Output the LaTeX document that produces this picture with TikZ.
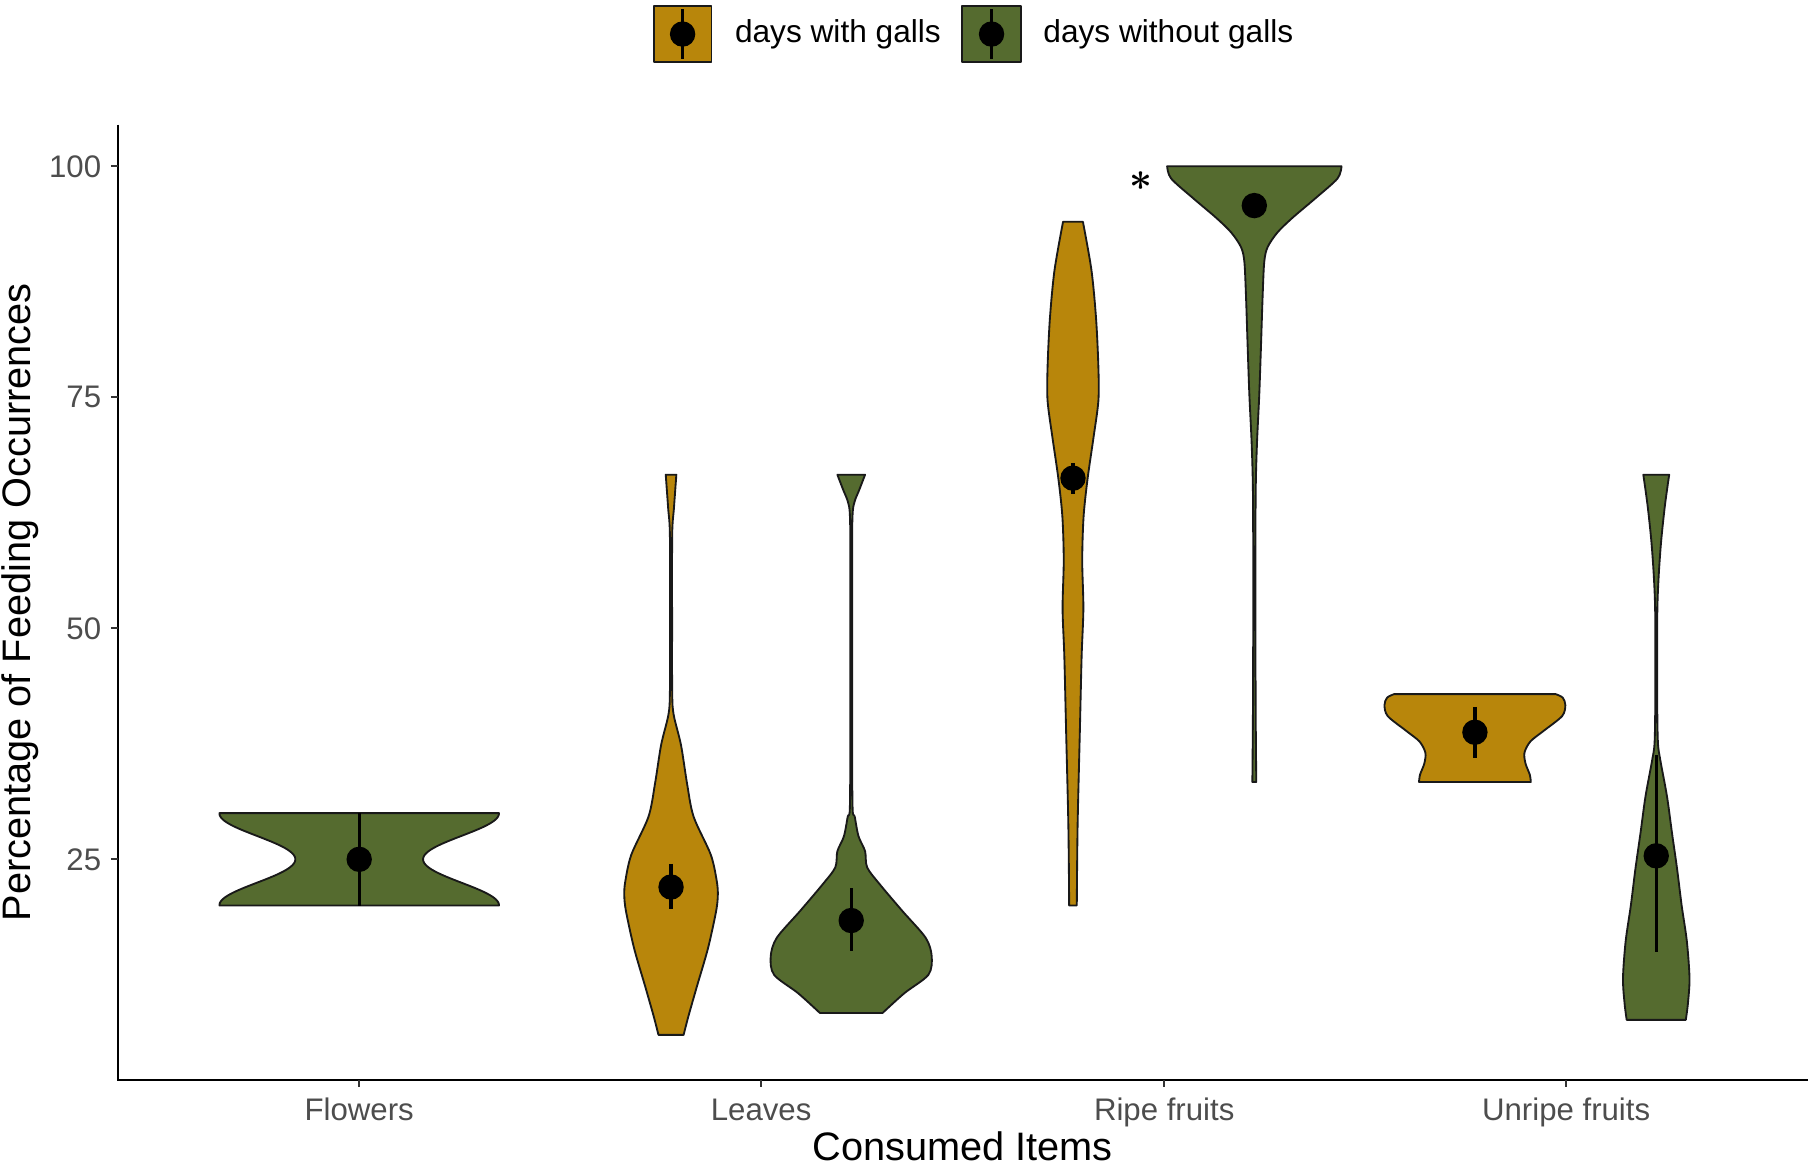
\documentclass[tikz,border=0pt]{standalone}
\usepackage{fontspec}
\setmainfont{Liberation Sans}
\definecolor{gall}{HTML}{B8860B}
\definecolor{nogall}{HTML}{556B2F}
\definecolor{ticktext}{HTML}{4D4D4D}
\begin{document}
\begin{tikzpicture}[x=0.5pt,y=-0.5pt,
  violin/.style={draw=black!90, line width=0.8pt, line join=round},
  galls/.style={violin, fill=gall},
  nogalls/.style={violin, fill=nogall},
  med/.style={circle, fill=black, inner sep=0pt, minimum size=11pt},
  ci/.style={line width=1.4pt, black},
  axisline/.style={line width=1pt, black},
  tickmark/.style={line width=0.9pt, black!80},
  ticklab/.style={font=\fontsize{13.5}{16}\selectfont, text=ticktext, inner sep=0pt},
  axtitle/.style={font=\fontsize{17.2}{20}\selectfont, inner sep=0pt},
  legtext/.style={font=\fontsize{13.7}{16}\selectfont, inner sep=0pt, anchor=base west},
  starlab/.style={inner sep=0pt, font=\fontsize{18}{20}\selectfont\boldmath},
]
\useasboundingbox (0,0) rectangle (1568,1011);

% ---------- axes ----------
\draw[axisline] (102,108) -- (102,935) -- (1565,935);
\foreach \v/\yy in {100/144,75/344,50/544,25/744}{
  \draw[tickmark] (96,\yy) -- (102,\yy);
  \node[ticklab, anchor=east] (ylab\v) at (88,\yy) {\v};
}
\foreach \xx/\lab/\nm in {311/Flowers/fl,659/Leaves/le,1008/Ripe fruits/rf,1356/Unripe fruits/uf}{
  \draw[tickmark] (\xx,935) -- (\xx,941);
  \node[ticklab, anchor=base] (xlab\nm) at (\xx,970) {\lab};
}
\node[axtitle, anchor=base] (xtitle) at (833.5,1005) {Consumed Items};
\node[axtitle, anchor=base, rotate=90] (ytitle) at (26,521.5) {Percentage of Feeding Occurrences};

% ---------- Flowers (without galls) ----------
\begin{scope}[shift={(311,0)}]
\draw[nogalls]
  plot[domain=704:784, samples=81, variable=\t] ({120.67*(exp(-(\t-704)^2/1086)+exp(-(\t-784)^2/1086))}, {\t})
  -- plot[domain=784:704, samples=81, variable=\t] ({-120.67*(exp(-(\t-704)^2/1086)+exp(-(\t-784)^2/1086))}, {\t})
  -- cycle;
\draw[ci] (0,704) -- (0,784);
\node[med] (mfl) at (0,744) {};
\end{scope}

% ---------- Leaves (with galls) ----------
\begin{scope}[shift={(581,0)}]
\draw[galls] plot[smooth] coordinates {(4.6,411) (2.5,440) (1.0,463) (0.9,540) (1.0,600) (2.3,619) (8.6,645) (13.8,678) (19.5,707) (34.4,740) (39.6,763) (40.5,775) (39,789) (32,821) (22.4,854) (15,880) (10.9,896)}
 -- plot[smooth] coordinates {(-10.9,896) (-15,880) (-22.4,854) (-32,821) (-39,789) (-40.5,775) (-39.6,763) (-34.4,740) (-19.5,707) (-13.8,678) (-8.6,645) (-2.3,619) (-1.0,600) (-0.9,540) (-1.0,463) (-2.5,440) (-4.6,411)} -- cycle;
\draw[ci] (0,748) -- (0,787);
\node[med] (mley) at (0,768) {};
\end{scope}

% ---------- Leaves (without galls) ----------
\begin{scope}[shift={(737,0)}]
\draw[nogalls] plot[smooth] coordinates {(12,411) (7,424) (3,434) (1.2,445) (0.8,480) (0.8,640) (1.2,700) (3,707) (6.3,724) (12,737) (13.8,751) (25,766) (44.5,789) (64.5,812) (69.7,828) (66.8,844) (45.9,860) (27.2,877)}
 -- plot[smooth] coordinates {(-27.2,877) (-45.9,860) (-66.8,844) (-69.7,828) (-64.5,812) (-44.5,789) (-25,766) (-13.8,751) (-12,737) (-6.3,724) (-3,707) (-1.2,700) (-0.8,640) (-0.8,480) (-1.2,445) (-3,434) (-7,424) (-12,411)} -- cycle;
\draw[ci] (0,769) -- (0,823);
\node[med] (mleg) at (0,797) {};
\end{scope}

% ---------- Ripe fruits (with galls) ----------
\begin{scope}[shift={(929,0)}]
\draw[galls] plot[smooth] coordinates {(8.6,192) (16,234) (20,276) (22,318) (22,347) (17.6,380) (12.7,414) (9.2,447) (8,485) (9,527) (7.5,568) (6,631) (4,715) (3.3,784)}
 -- plot[smooth] coordinates {(-3.3,784) (-4,715) (-6,631) (-7.5,568) (-9,527) (-8,485) (-9.2,447) (-12.7,414) (-17.6,380) (-22,347) (-22,318) (-20,276) (-16,234) (-8.6,192)} -- cycle;
\draw[ci] (0,401) -- (0,428);
\node[med] (mrfy) at (0,414) {};
\end{scope}

% ---------- Ripe fruits (without galls) ----------
\begin{scope}[shift={(1086,0)}]
\draw[nogalls] plot[smooth] coordinates {(75.5,144) (72,154.6) (53,171.6) (33,188.6) (20,201.3) (11.5,214) (8.6,226.8) (7.2,256.5) (5.8,299) (4.3,341.5) (2.3,384) (1.2,426) (0.9,511) (1.2,617) (1.7,677)}
 -- plot[smooth] coordinates {(-1.7,677) (-1.2,617) (-0.9,511) (-1.2,426) (-2.3,384) (-4.3,341.5) (-5.8,299) (-7.2,256.5) (-8.6,226.8) (-11.5,214) (-20,201.3) (-33,188.6) (-53,171.6) (-72,154.6) (-75.5,144)} -- cycle;
\node[med] (mrfg) at (0,178) {};
\end{scope}
\node[starlab] (star) at (988,157) {$\ast$};

% ---------- Unripe fruits (with galls) ----------
\begin{scope}[shift={(1277,0)}]
\draw[galls] plot[smooth] coordinates {(70,601) (76,604) (78.3,610.5) (75.5,620) (59.6,632.7) (48,642) (42.9,651.7) (43.8,661) (47.5,670.7) (48.4,677)}
 -- plot[smooth] coordinates {(-48.4,677) (-47.5,670.7) (-43.8,661) (-42.9,651.7) (-48,642) (-59.6,632.7) (-75.5,620) (-78.3,610.5) (-76,604) (-70,601)} -- cycle;
\draw[ci] (0,612) -- (0,656);
\node[med] (mufy) at (0,634) {};
\end{scope}

% ---------- Unripe fruits (without galls) ----------
\begin{scope}[shift={(1434,0)}]
\draw[nogalls] plot[smooth] coordinates {(11.2,411) (7.5,437.7) (4.2,469) (2,500.6) (0.9,532) (0.8,600) (1.4,642) (3.5,658) (9.3,689.5) (13.6,721) (18,752) (22,784) (26.5,815) (28.8,847) (27.4,869) (25.6,883)}
 -- plot[smooth] coordinates {(-25.6,883) (-27.4,869) (-28.8,847) (-26.5,815) (-22,784) (-18,752) (-13.6,721) (-9.3,689.5) (-3.5,658) (-1.4,642) (-0.8,600) (-0.9,532) (-2,500.6) (-4.2,469) (-7.5,437.7) (-11.2,411)} -- cycle;
\draw[ci] (0,654) -- (0,824);
\node[med] (mufg) at (0,741) {};
\end{scope}

% ---------- legend ----------
\draw[galls] (566,5) rectangle (616,54);
\draw[ci] (591,8) -- (591,51);
\node[med] (lk1) at (591,29.5) {};
\node[legtext] (lt1) at (636,37) {days with galls};
\draw[nogalls] (833,5) rectangle (884,54);
\draw[ci] (858.5,8) -- (858.5,51);
\node[med] (lk2) at (858.5,29.5) {};
\node[legtext] (lt2) at (903,37) {days without galls};
\end{tikzpicture}
\end{document}
